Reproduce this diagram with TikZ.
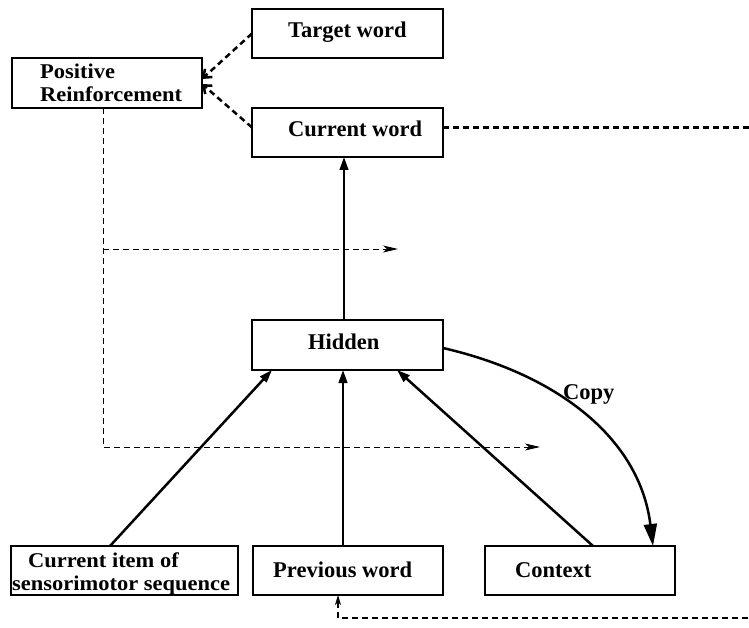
\documentclass[tikz,border=0pt]{standalone}
\usepackage{fontspec}
\setmainfont{Liberation Serif}
\usetikzlibrary{arrows.meta}
\newcommand{\wide}[1]{\scalebox{1.07}[1]{#1}}
\begin{document}
\begin{tikzpicture}[x=1pt,y=-1pt,
  box/.style={draw,line width=2.8pt,inner sep=0pt,outer sep=0pt,minimum width=191pt,minimum height=49pt},
  lbl/.style={anchor=base west,inner sep=0pt,font=\fontsize{22.5}{20}\selectfont\bfseries},
  lblsmall/.style={lbl,font=\fontsize{21}{20}\selectfont\bfseries},
  solidarrow/.style={line width=2.5pt,-{Triangle[length=13pt,width=8.5pt]}},
  feedback/.style={line width=2.5pt,dash pattern=on 6pt off 4pt},
  thindash/.style={line width=0.9pt,dash pattern=on 6pt off 4pt,-{Stealth[length=15pt,width=7pt,inset=4pt]}}]
\useasboundingbox (0,0) rectangle (749,628);

% boxes
\node[box] (target)   at (347.5,33.5) {};
\node[box,minimum width=190pt,minimum height=50pt] (pr) at (107,83) {};
\node[box] (curword)  at (347.5,132.5) {};
\node[box,minimum height=50pt] (hidden) at (347.5,345) {};
\node[box,minimum width=227pt] (curitem) at (124.5,570.5) {};
\node[box,minimum width=190pt] (prevword) at (348,570.5) {};
\node[box,minimum width=190pt] (context)  at (580,570.5) {};

% box labels
\node[lbl] (tTarget) at (288,38) {Target word};
\node[lblsmall] (tPos)   at (40,78.5) {\wide{Positive}};
\node[lblsmall] (tReinf) at (40,102) {\wide{Reinforcement}};
\node[lbl] (tCur)    at (288,137) {Current word};
\node[lbl] (tHid)    at (308,349) {Hidden};
\node[lblsmall] (tItem1) at (28,567) {\wide{Current item of}};
\node[lblsmall] (tItem2) at (12,590.5) {\wide{sensorimotor sequence}};
\node[lbl] (tPrev)   at (273,577) {Previous word};
\node[lbl] (tCtx)    at (515,577) {Context};
\node[lbl] (tCopy)   at (563,399) {Copy};

% feed-forward connections
\draw[solidarrow] ([xshift=-14.5pt]curitem.north) -- ([xshift=-75.5pt]hidden.south);
\draw[solidarrow] ([xshift=-5pt]prevword.north) -- ([xshift=-4.5pt]hidden.south);
\draw[solidarrow] ([xshift=13pt]context.north) -- ([xshift=49.5pt]hidden.south);
\draw[solidarrow] ([xshift=-3.5pt]hidden.north) -- ([xshift=-3.5pt]curword.south);

% copy to context units
\draw[line width=2.5pt,-{Triangle[length=22pt,width=13pt]}]
  ([yshift=-3pt]hidden.east) .. controls (560,375) and (640,440) .. ([xshift=73pt]context.north);

% reinforcement inputs
\draw[feedback,-{Straight Barb[length=7pt,width=11pt]}] (target.west) -- ([yshift=4pt]pr.east);
\draw[feedback,-{Straight Barb[length=7pt,width=11pt]}] ([yshift=5pt]curword.west) -- ([yshift=-1pt]pr.east);

% current word fed back as previous word
\draw[feedback,-{Stealth[length=10pt,width=6pt,inset=3pt]}]
  ([yshift=5pt]curword.east) -- (775,127.5) -- (775,618) -| ([xshift=-10pt]prevword.south);

% reinforcement signal to the weights
\coordinate (wOut) at (398,249);
\coordinate (wIn)  at (540,447);
\draw[thindash] ([xshift=-4pt]pr.south) -- (103,447) -- (wIn);
\draw[thindash] (103,249) -- (wOut);
\end{tikzpicture}
\end{document}
